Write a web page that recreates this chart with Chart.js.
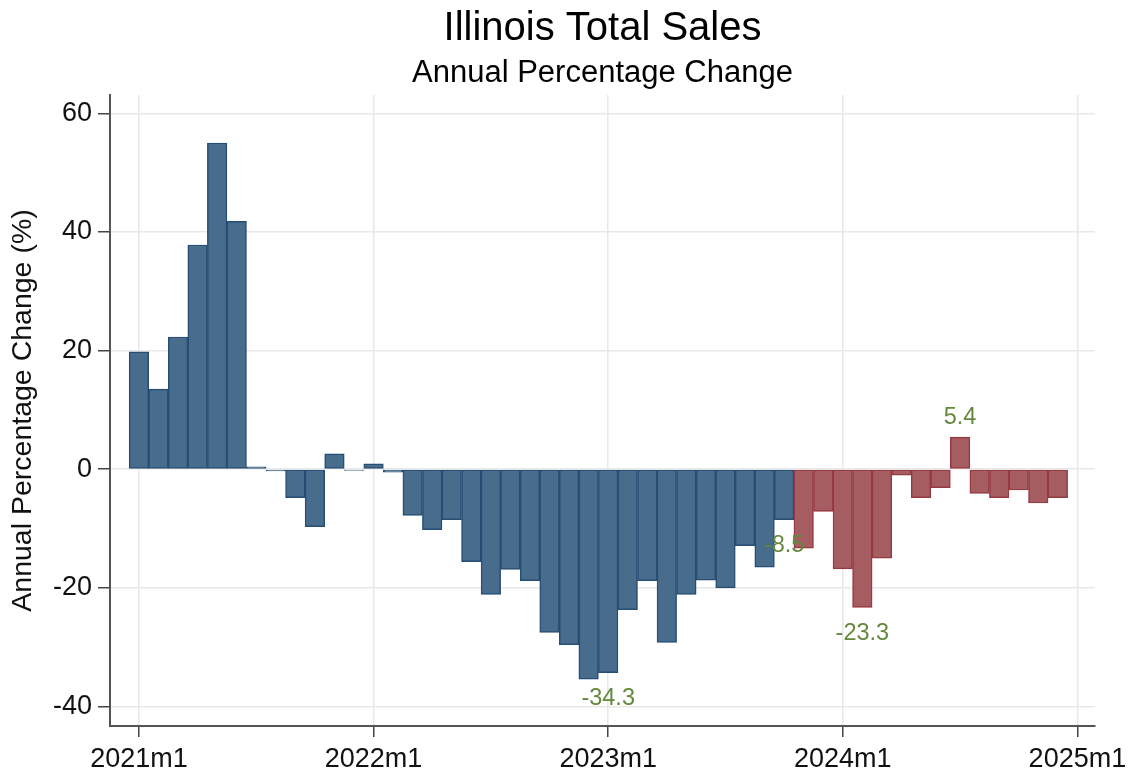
<!DOCTYPE html>
<html>
<head>
<meta charset="utf-8">
<script src="https://cdn.jsdelivr.net/npm/chart.js@4"></script>
<style>
  html, body { margin: 0; padding: 0; background: #fff; }
  #wrap { width: 1136px; height: 783px; }
</style>
</head>
<body>
<div id="wrap"><canvas id="mycanvas" width="1136" height="783"></canvas></div>
<script>
// monthly annual % change, 2021m1 .. 2023m10 (blue) and 2023m11 .. 2024m12 (red)
var blueValues = [19.8, 13.5, 22.3, 37.8, 55.0, 41.8, 0.4, -0.3, -4.8, -9.7, 2.6, -0.2,
                  0.9, -0.5, -7.8, -10.2, -8.5, -15.6, -21.1, -16.9, -18.8, -27.5, -29.6, -35.4,
                  -34.3, -23.7, -18.8, -29.2, -21.1, -18.7, -20.0, -12.9, -16.5, -8.5];
var redValues = [-13.3, -7.1, -16.8, -23.3, -15.0, -1.0, -4.8, -3.1, 5.4, -4.1, -4.8, -3.5, -5.7, -4.8];

var xTickPos = [0, 12, 24, 36, 48];
var xTickLabels = ["2021m1", "2022m1", "2023m1", "2024m1", "2025m1"];
var yTicks = [-40, -20, 0, 20, 40, 60];
var labelMonths = ["2023m1", "2023m10", "2024m2", "2024m7"];

var months = [];
for (var yr = 2021; yr <= 2024; yr++) {
	for (var m = 1; m <= 12; m++) months.push(yr + "m" + m);
}

var bluePts = [];
for (var i in blueValues) bluePts.push({x: +i, y: blueValues[i]});
var redPts = [];
for (var j in redValues) redPts.push({x: blueValues.length + (+j), y: redValues[j]});

var FONT = "'Liberation Sans', Arial, sans-serif";

// value labels under/over selected bars
var barLabels = {
	id: "barLabels",
	afterDatasetsDraw: function(chart) {
		var ctx = chart.ctx;
		ctx.save();
		ctx.font = "23.5px " + FONT;
		ctx.fillStyle = "#64883c";
		ctx.textAlign = "center";
		ctx.textBaseline = "middle";
		chart.data.datasets.forEach(function(ds, d) {
			var meta = chart.getDatasetMeta(d);
			meta.data.forEach(function(bar, k) {
				var pt = ds.data[k];
				if (labelMonths.indexOf(months[pt.x]) < 0) return;
				var y = pt.y < 0 ? bar.y + 26 : bar.y - 20;
				ctx.fillText(pt.y.toFixed(1), bar.x, y);
			});
		});
		ctx.restore();
	}
};

var chartdata = {
	datasets: [
		{
			data: bluePts,
			backgroundColor: "rgba(72, 108, 140, 1)",
			borderColor: "rgba(38, 78, 116, 1)",
			borderWidth: 1.5,
			borderSkipped: false,
			grouped: false,
			barPercentage: 1,
			categoryPercentage: 1
		},
		{
			data: redPts,
			backgroundColor: "rgba(166, 93, 98, 1)",
			borderColor: "rgba(150, 58, 66, 1)",
			borderWidth: 1.5,
			borderSkipped: false,
			grouped: false,
			barPercentage: 1,
			categoryPercentage: 1
		}
	]
};

var ctx = document.getElementById("mycanvas");
var BarGraph = new Chart(ctx, {
	type: "bar",
	data: chartdata,
	plugins: [barLabels],
	options: {
		responsive: false,
		animation: false,
		layout: { padding: { left: 0, right: 41, top: 0, bottom: 0 } },
		plugins: {
			legend: { display: false },
			tooltip: { enabled: false },
			title: {
				display: true,
				fullSize: false,
				text: "Illinois Total Sales",
				color: "#000",
				font: { family: FONT, size: 40, weight: "normal" },
				padding: { top: 4.5, bottom: 0 }
			},
			subtitle: {
				display: true,
				fullSize: false,
				text: "Annual Percentage Change",
				color: "#000",
				font: { family: FONT, size: 31, weight: "normal" },
				padding: { top: 2, bottom: 3.3 }
			}
		},
		scales: {
			x: {
				type: "linear",
				min: -1.48,
				max: 48.9,
				offset: false,
				afterBuildTicks: function(scale) {
					scale.ticks = xTickPos.map(function(v) { return {value: v}; });
				},
				afterFit: function(scale) { scale.height = 57; },
				ticks: {
					autoSkip: false,
					maxRotation: 0,
					color: "#111",
					padding: 6,
					font: { family: FONT, size: 27 },
					callback: function(v) { return xTickLabels[xTickPos.indexOf(v)]; }
				},
				grid: { offset: false, color: "#e8e8e8", lineWidth: 1.5, tickColor: "#444", tickLength: 11 },
				border: { color: "#555", width: 2 }
			},
			y: {
				min: -43.3,
				max: 63.1,
				afterBuildTicks: function(scale) {
					scale.ticks = yTicks.map(function(v) { return {value: v}; });
				},
				afterFit: function(scale) { scale.width = 110; },
				ticks: {
					color: "#111",
					padding: 6,
					font: { family: FONT, size: 27 }
				},
				grid: { color: "#e8e8e8", lineWidth: 1.5, tickColor: "#444", tickLength: 12 },
				border: { color: "#555", width: 2 },
				title: {
					display: true,
					text: "Annual Percentage Change (%)",
					color: "#111",
					font: { family: FONT, size: 28.5 },
					padding: { top: 6, bottom: 0 }
				}
			}
		}
	}
});
</script>
</body>
</html>
